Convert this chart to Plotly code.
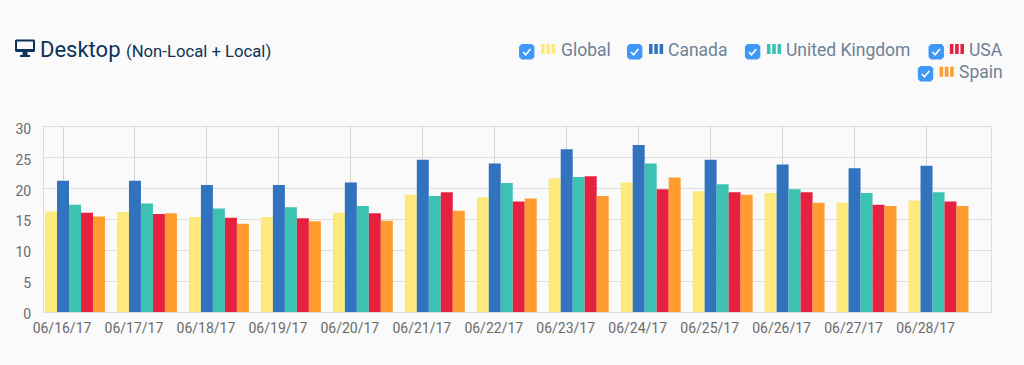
import plotly.graph_objects as go

dates = ["06/16/17","06/17/17","06/18/17","06/19/17","06/20/17","06/21/17","06/22/17",
         "06/23/17","06/24/17","06/25/17","06/26/17","06/27/17","06/28/17"]
global_vals = [16.3,16.2,15.4,15.4,16.1,19.0,18.6,21.7,21.0,19.6,19.3,17.7,18.1]
canada_vals = [21.3,21.3,20.6,20.6,21.0,24.7,24.1,26.4,27.1,24.7,23.9,23.3,23.7]
uk_vals     = [17.4,17.6,16.8,17.0,17.2,18.8,20.9,21.9,24.1,20.7,19.9,19.3,19.4]
usa_vals    = [16.1,15.9,15.3,15.2,16.0,19.4,17.9,22.0,19.9,19.4,19.4,17.4,17.9]
spain_vals  = [15.5,16.0,14.3,14.7,14.8,16.4,18.4,18.8,21.8,19.0,17.7,17.2,17.2]
series_names = ["Global","Canada","United Kingdom","USA","Spain"]
series_vals = [global_vals,canada_vals,uk_vals,usa_vals,spain_vals]
colors = ["#FEE97D","#3173BE","#3BC2B2","#E6213F","#FF9C30"]

W, H = 1024, 365
L, R, T, B = 44, 32.5, 127, 53
PW, PH = W-L-R, H-T-B
fig = go.Figure()
bw = 1/6
for i,(n,v,c) in enumerate(zip(series_names,series_vals,colors)):
    fig.add_bar(x=dates,y=v,name=n,marker=dict(color=c,line=dict(width=0)),
                width=bw,offset=-0.25+i*bw)

shapes=[]; anns=[]
def px(x): return (x-L)/PW
def py(y): return (H-B-y)/PH
def rect(x0,y0,x1,y1,c):
    shapes.append(dict(type="rect",xref="paper",yref="paper",x0=px(x0),x1=px(x1),y0=py(y0),y1=py(y1),
                       fillcolor=c,line=dict(width=0),layer="above"))
def path(pts,**kw):
    d="M"+" L".join(f"{px(a):.5f},{py(b):.5f}" for a,b in pts)
    shapes.append(dict(type="path",xref="paper",yref="paper",path=d,layer="above",**kw))
def checkbox(x,y):
    r=2.5;s=15.4
    pts=[(x+r,y),(x+s-r,y),(x+s,y+r),(x+s,y+s-r),(x+s-r,y+s),(x+r,y+s),(x,y+s-r),(x,y+r)]
    path(pts+[(x+r,y)],fillcolor="#3E98F6",line=dict(width=0))
    path([(x+4,y+8),(x+6.6,y+10.8),(x+11.4,y+5)],line=dict(color="white",width=1.6))
def swatch(x,y,c):
    for k in range(3):
        rect(x+k*5.3,y,x+k*5.3+3.6,y+10,c)
legend_pos=[(519.3,44,541.3,44,560.3,50),(627.3,44,649.3,44,668.3,50),(745.3,44,767.3,44,786,50),
            (929,44,950.3,44,969.3,50),(918.3,66,940,66.7,958.7,72.5)]
for (cx,cy,sx,sy,tx,ty),n,c in zip(legend_pos,series_names,colors):
    checkbox(cx,cy); swatch(sx,sy,c)
    anns.append(dict(xref="paper",yref="paper",x=px(tx),y=py(ty),text=n,showarrow=False,xanchor="left",
                     yanchor="middle",xshift=-1.5,font=dict(family="Roboto",size=17.5,color="#6E8196")))
# title
navy="#0D3358"
anns.append(dict(xref="paper",yref="paper",x=px(37.5),y=py(49.5),showarrow=False,xanchor="left",yanchor="middle",
     text="Desktop <span style='font-size:16.7px'>(Non-Local + Local)</span>",
     font=dict(family="Roboto",size=22,color=navy)))
# monitor icon
path([(16,39.5),(34,39.5),(35,40.5),(35,51),(34,52),(16,52),(15,51),(15,40.5),(16,39.5)],fillcolor=navy,line=dict(width=0))
rect(17,41.5,33,49,"#FAFAFA")
rect(22.5,52,27.5,55,navy)
rect(20,55,30,57,navy)

fig.update_layout(width=W,height=H,autosize=False,margin=dict(l=L,r=R,t=T,b=B,pad=0),
    paper_bgcolor="#FAFAFA",plot_bgcolor="#FAFAFA",barmode="overlay",showlegend=False,
    shapes=shapes,annotations=anns,font=dict(family="Roboto",size=14,color="#6B6B6B"),
    xaxis=dict(type="category",range=[-0.264,12.896],showgrid=True,gridcolor="#D4D4D4",gridwidth=1,
               showline=True,linecolor="#DEDEDE",linewidth=1,mirror=True,ticks="",ticklabelstandoff=3,
               ticklabelshift=-1,tickangle=0,tickfont=dict(family="Roboto",size=14,color="#6B6B6B")),
    yaxis=dict(range=[0,30],tickvals=[0,5,10,15,20,25,30],showgrid=True,gridcolor="#DEDEDE",gridwidth=1,
               showline=True,linecolor="#DEDEDE",linewidth=1,mirror=True,ticks="",ticklabelstandoff=9,
               ticklabelshift=2,zeroline=False,tickfont=dict(family="Roboto",size=14,color="#6B6B6B")))
fig.write_html("out.html",config=dict(displayModeBar=False),
    post_script="document.body.style.margin='0';document.body.style.background='#FAFAFA';document.documentElement.style.overflow='hidden';")
